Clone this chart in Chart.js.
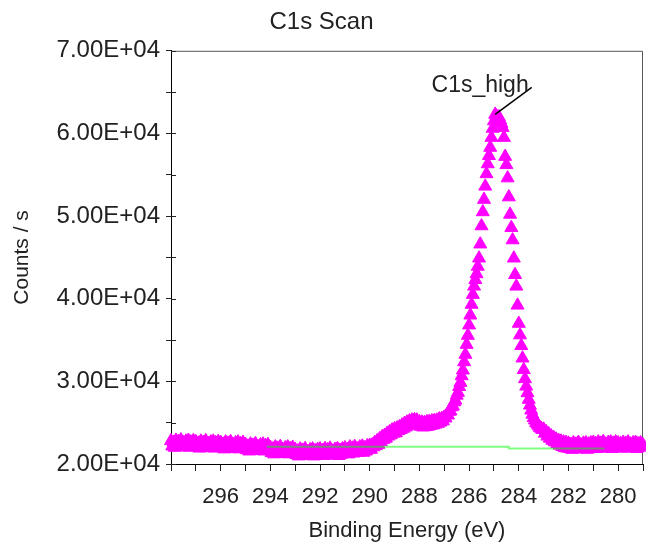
<!DOCTYPE html>
<html>
<head>
<meta charset="utf-8">
<script src="https://cdn.jsdelivr.net/npm/chart.js@4.4.1/dist/chart.umd.min.js"></script>
<style>
  html, body { margin: 0; padding: 0; background: #fff; }
  #wrap { width: 646px; height: 544px; }
</style>
</head>
<body>
<div id="wrap"><canvas id="chart-c1s" width="646" height="544"></canvas></div>
<script>
// ── Data ─────────────────────────────────────────────────────
// C1s scan, 298.00 eV → 279.00 eV in 0.05 eV steps (one row per eV)
const startEnergy = 298;
const energyStep  = 0.05;
const counts = [
    22800, 22150, 22600, 22000, 22850, 22350, 22700, 22050, 22900, 22200, 22550, 22100, 22750, 22300, 22850, 22000, 22650, 22150, 22800, 22400,
    22700, 22050, 22500, 21900, 22750, 22250, 22600, 21950, 22800, 22100, 22450, 22000, 22650, 22200, 22750, 21900, 22550, 22050, 22700, 22300,
    22600, 21950, 22400, 21800, 22650, 22150, 22500, 21850, 22700, 22000, 22350, 21900, 22550, 22100, 22650, 21800, 22450, 21950, 22600, 22200,
    22350, 21700, 22150, 21550, 22400, 21900, 22250, 21600, 22450, 21750, 22100, 21650, 22300, 21850, 22400, 21550, 22200, 21700, 22350, 21950,
    22000, 21350, 21800, 21200, 22050, 21550, 21900, 21250, 22100, 21400, 21750, 21300, 21950, 21500, 22050, 21200, 21850, 21350, 22000, 21600,
    21750, 21100, 21550, 20950, 21800, 21300, 21650, 21000, 21850, 21150, 21500, 21050, 21700, 21250, 21800, 20950, 21600, 21100, 21750, 21350,
    21800, 21150, 21600, 21000, 21850, 21350, 21700, 21050, 21900, 21200, 21550, 21100, 21750, 21300, 21850, 21000, 21650, 21150, 21800, 21400,
    21950, 21300, 21750, 21200, 22050, 21550, 21900, 21300, 22100, 21450, 21800, 21400, 22050, 21600, 22150, 21400, 21950, 21550, 22200, 21800,
    22250, 21750, 22300, 22050, 22600, 22200, 22800, 22350, 23050, 22700, 23300, 22950, 23450, 23100, 23700, 23350, 23900, 23500, 24100, 23700,
    24250, 23750, 24350, 24000, 24500, 24150, 24700, 24300, 24900, 24450, 25050, 24600, 25200, 24750, 25300, 24800, 25350, 24850, 25300, 24750,
    25100, 24550, 25050, 24450, 25000, 24500, 25100, 24550, 25150, 24650, 25200, 24700, 25250, 24800, 25300, 24900, 25450, 25050, 25500, 25200,
    25650, 25550, 25950, 25900, 26350, 26400, 26900, 27000, 27500, 27700, 28300, 28650, 29350, 29850, 30650, 31350, 32350, 33250, 34450, 35550,
    36800, 38000, 39300, 40500, 41500, 42300, 43000, 43900, 44900, 46600, 48800, 50500, 52000, 53600, 55100, 56300, 57300, 58300, 59500, 60600,
    61500, 62300, 62100, 61800, 62000, 61600, 61200, 60700, 59500, 57200, 56200, 54600, 52300, 50200, 48600, 47100, 44900, 42900, 41500, 39200,
    37000, 35600, 34300, 32800, 31400, 30300, 29400, 28600, 27800, 27100, 26500, 26000, 25600, 25300, 25000, 24800, 24600, 24400, 24300, 24150,
    24200, 23700, 23900, 23350, 23650, 23100, 23400, 22850, 23200, 22650, 23000, 22450, 22850, 22250, 22750, 22100, 22650, 21950, 22600, 21900,
    22500, 21850, 22350, 21750, 22550, 22000, 22400, 21800, 22600, 21900, 22300, 21850, 22500, 22000, 22550, 21750, 22400, 21900, 22550, 22150,
    22600, 21950, 22450, 21850, 22650, 22100, 22500, 21900, 22700, 22000, 22400, 21950, 22600, 22100, 22650, 21850, 22500, 22000, 22650, 22250,
    22550, 21950, 22450, 21900, 22600, 22100, 22500, 21900, 22650, 22000, 22400, 21950, 22550, 22050, 22600, 21850, 22450, 22000, 22550, 22200,
    22300
];
const energies = counts.map((_, i) => +(startEnergy - i * energyStep).toFixed(2));

// background (green) segments
const bgEnergies = [294.15, 284.40, 284.40, 280.55];
const bgCounts   = [22090, 22090, 21890, 21890];

// peak label
const peakName   = 'C1s_high';
const peakPoint  = [284.95, 62300];
const labelPoint = [283.48, 65580];

// axis ranges / ticks
const xMin = 279, xMax = 298;
const xLabelled = [296, 294, 292, 290, 288, 286, 284, 282, 280];
const yMin = 20000, yMax = 70000, yStep = 5000;

const FONT = '"Liberation Sans", Arial, sans-serif';
const INK  = '#222';

// ── Plugins: frame, inner y ticks, peak label ───────────────
const framePlugin = {
    id: 'frame',
    beforeDatasetsDraw(chart) {
        const { ctx, chartArea: a, scales: { y } } = chart;
        ctx.save();
        ctx.lineWidth = 1;
        ctx.strokeStyle = '#555';
        ctx.beginPath();
        ctx.moveTo(a.left, a.top + 0.5);
        ctx.lineTo(a.right - 0.5, a.top + 0.5);
        ctx.lineTo(a.right - 0.5, a.bottom);
        ctx.stroke();
        ctx.strokeStyle = INK;
        y.ticks.forEach(t => {
            const py = Math.round(y.getPixelForValue(t.value)) + 0.5;
            ctx.beginPath();
            ctx.moveTo(a.left, py);
            ctx.lineTo(a.left + 5, py);
            ctx.stroke();
        });
        ctx.restore();
    }
};

const peakLabelPlugin = {
    id: 'peakLabel',
    afterDatasetsDraw(chart) {
        const { ctx, scales: { x, y } } = chart;
        const px = x.getPixelForValue(peakPoint[0]), py = y.getPixelForValue(peakPoint[1]);
        const lx = x.getPixelForValue(labelPoint[0]), ly = y.getPixelForValue(labelPoint[1]);
        ctx.save();
        ctx.strokeStyle = '#000';
        ctx.lineWidth = 1.5;
        ctx.beginPath();
        ctx.moveTo(px, py);
        ctx.lineTo(lx, ly);
        ctx.stroke();
        ctx.fillStyle = INK;
        ctx.font = `23px ${FONT}`;
        ctx.textAlign = 'right';
        ctx.textBaseline = 'alphabetic';
        ctx.fillText(peakName, lx - 3, ly + 5);
        ctx.restore();
    }
};

// ── Chart ───────────────────────────────────────────────────
new Chart(document.getElementById('chart-c1s'), {
    type: 'scatter',
    data: {
        datasets: [
            {
                label: 'background',
                data: bgEnergies.map((e, i) => ({ x: e, y: bgCounts[i] })),
                showLine: true,
                borderColor: 'rgba(0,255,0,0.5)',
                borderWidth: 2,
                pointRadius: 0,
                order: 0,
            },
            {
                label: 'C1s',
                data: energies.map((e, i) => ({ x: e, y: counts[i] })),
                pointStyle: 'triangle',
                pointRadius: 7.5,
                backgroundColor: '#ff00ff',
                borderColor: '#ff00ff',
                borderWidth: 1,
                clip: false,
                order: 1,
            }
        ]
    },
    options: {
        responsive: false,
        animation: false,
        layout: { autoPadding: false, padding: { left: 0, right: 3, top: 0, bottom: 0 } },
        plugins: {
            legend: { display: false },
            tooltip: { enabled: false },
            title: {
                display: true,
                text: 'C1s Scan',
                color: INK,
                font: { family: FONT, size: 24, weight: 'normal' },
                padding: { top: 8, bottom: 14 }
            }
        },
        scales: {
            x: {
                type: 'linear',
                reverse: true,
                min: xMin, max: xMax,
                afterFit: s => { s.height = 80; s.paddingLeft = 0; s.paddingRight = 0; },
                ticks: {
                    stepSize: 1,
                    autoSkip: false,
                    maxRotation: 0,
                    padding: 13,
                    color: INK,
                    font: { family: FONT, size: 22 },
                    callback: v => xLabelled.includes(v) ? String(v) : ''
                },
                grid: { drawOnChartArea: false, drawTicks: true, tickLength: 7, color: INK },
                border: { display: true, color: '#000', width: 1 },
                title: {
                    display: true,
                    text: 'Binding Energy (eV)',
                    color: INK,
                    font: { family: FONT, size: 22 },
                    padding: { top: 0, bottom: 0 }
                }
            },
            y: {
                min: yMin, max: yMax,
                afterFit: s => { s.width = 171; },
                ticks: {
                    stepSize: yStep,
                    autoSkip: false,
                    padding: 6,
                    color: INK,
                    font: { family: FONT, size: 24 },
                    callback: v => v % 10000 === 0 ? `${(v / 10000).toFixed(2)}E+04` : ''
                },
                grid: { drawOnChartArea: false, drawTicks: true, tickLength: 5, color: INK },
                border: { display: true, color: '#000', width: 1 },
                title: {
                    display: true,
                    text: 'Counts / s',
                    color: INK,
                    font: { family: FONT, size: 21 },
                    padding: { top: 10, bottom: 0 }
                }
            }
        }
    },
    plugins: [framePlugin, peakLabelPlugin]
});
</script>
</body>
</html>
